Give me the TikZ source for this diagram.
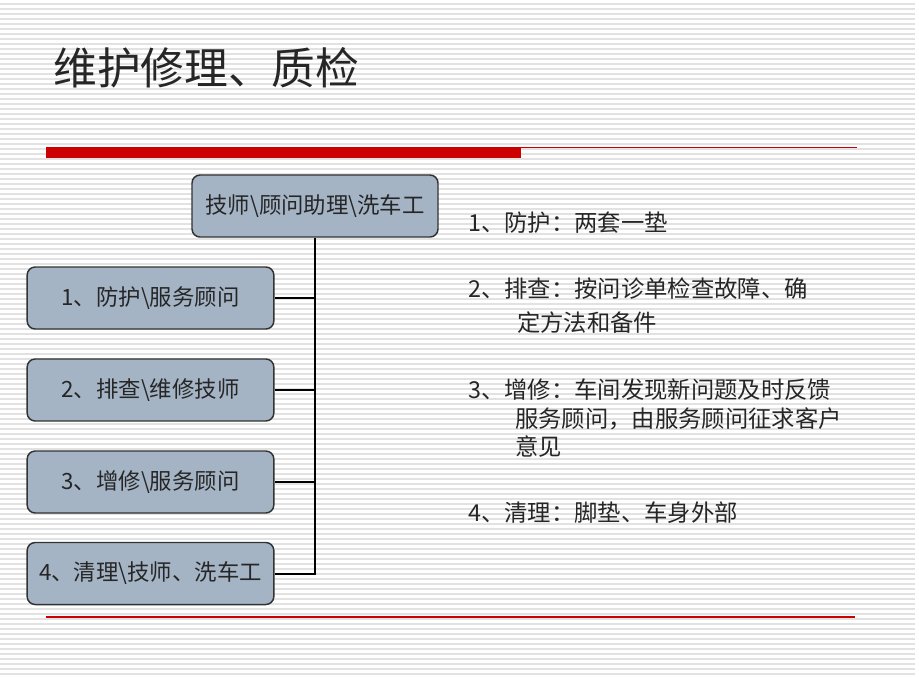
\documentclass[tikz,border=0pt]{standalone}
\usepackage{fontspec}
\setmainfont{Noto Sans CJK SC}
\definecolor{stripe}{RGB}{226,226,226}
\definecolor{boxfill}{RGB}{164,180,197}
\definecolor{boxline}{RGB}{50,50,50}
\definecolor{redbar}{RGB}{204,0,0}
\tikzset{
  box/.style={draw=boxline, line width=1.1pt, fill=boxfill, rounded corners=6pt,
    minimum width=185pt, minimum height=46.5pt, inner sep=0pt,
    font=\fontsize{16.8pt}{19pt}\selectfont, text=black!85},
  conn/.style={draw=black, line width=1.5pt},
  item/.style={anchor=west, inner sep=0pt, font=\fontsize{17.5pt}{20pt}\selectfont, text=black!85},
  titletext/.style={anchor=west, inner sep=0pt, font=\fontsize{32.8pt}{36pt}\selectfont, text=black!85}
}
\begin{document}
\begin{tikzpicture}[x=0.75pt,y=-0.75pt]
\useasboundingbox (0,0) rectangle (919,676);
\fill[white] (0,0) rectangle (919,676);
\foreach \i in {0,...,134} {
  \draw[stripe, line width=1.5pt] (0,{4+5*\i}) -- (915,{4+5*\i});
}
% title
\node[titletext] (title) at (53,68) {维护修理、质检};
% red bars
\fill[redbar] (46,147) rectangle (521,158);
\draw[redbar, line width=1.1pt] (521,147.5) -- (857,147.5);
\draw[redbar, line width=1.1pt] (46,617) -- (855,617);
% boxes
\node[box, minimum width=184.5pt] (top) at (315,206) {技师\textbackslash 顾问助理\textbackslash 洗车工};
\node[box] (b1) at (150.5,298) {1、防护\textbackslash 服务顾问};
\node[box] (b2) at (150.5,390) {2、排查\textbackslash 维修技师};
\node[box] (b3) at (150.5,482) {3、增修\textbackslash 服务顾问};
\node[box] (b4) at (150.5,573.5) {4、清理\textbackslash 技师、洗车工};
% connectors
\draw[conn] (top.south) |- (b4.east);
\draw[conn] (b1.east) -- (b1.east -| top.south);
\draw[conn] (b2.east) -- (b2.east -| top.south);
\draw[conn] (b3.east) -- (b3.east -| top.south);
% right texts
\node[item] (t1) at (468,223) {1、防护：两套一垫};
\node[item] (t2a) at (468,289) {2、排查：按问诊单检查故障、确};
\node[item] (t2b) at (517,323) {定方法和备件};
\node[item] (t3a) at (468,390) {3、增修：车间发现新问题及时反馈};
\node[item] (t3b) at (515,419) {服务顾问，由服务顾问征求客户};
\node[item] (t3c) at (515,447) {意见};
\node[item] (t4) at (468,513) {4、清理：脚垫、车身外部};
\end{tikzpicture}
\end{document}
